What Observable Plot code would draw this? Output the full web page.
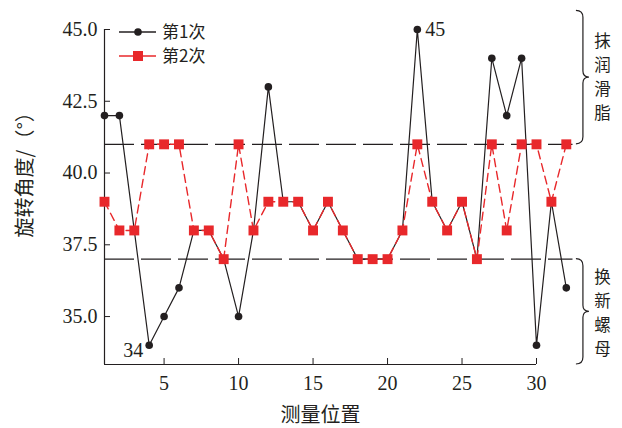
<!DOCTYPE html>
<html>
<head>
<meta charset="utf-8">
<script src="https://cdn.jsdelivr.net/npm/d3@7"></script>
<script src="https://cdn.jsdelivr.net/npm/@observablehq/plot@0.6"></script>
<style>
  body { margin: 0; background: #fff; }
</style>
</head>
<body>
<div id="chart"></div>
<script>
// ---- data ----
const positions = [1,2,3,4,5,6,7,8,9,10,11,12,13,14,15,16,17,18,19,20,21,22,23,24,25,26,27,28,29,30,31,32];
const run1 = [42,42,38,34,35,36,38,38,37,35,38,43,39,39,38,39,38,37,37,37,38,45,39,38,39,37,44,42,44,34,39,36];
const run2 = [39,38,38,41,41,41,38,38,37,41,38,39,39,39,38,39,38,37,37,37,38,41,39,38,39,37,41,38,41,41,39,41];
const seriesNames = ["第1次", "第2次"];
const xTicks = [5,10,15,20,25,30];
const yTicks = [35.0,37.5,40.0,42.5,45.0];
const refLines = [41, 37];
const pointLabels = [{pos: 22, value: 45, text: "45", side: "right"}, {pos: 4, value: 34, text: "34", side: "left"}];
const braceSpans = [{from: 45.65, to: 41, label: "抹润滑脂", mid: 43.33}, {from: 37, to: 33.33, label: "换新螺母", mid: 35.1}];
const xTitle = "测量位置";
const yTitle = "旋转角度/（°）";

const RED = "#e8282b";
const INK = "#231f20";
const CJK = "'Noto Sans CJK SC', sans-serif";
const SERIF = "'Liberation Serif', 'Times New Roman', serif";

const rows = positions.map((p, i) => ({pos: p, a: run1[i], b: run2[i]}));
// one entry per character of the vertical side labels
const sideChars = braceSpans.flatMap(b => Array.from(b.label).map((ch, i, arr) => ({ch, mid: b.mid, k: i - (arr.length - 1) / 2})));
const charSlots = [-1.5, -0.5, 0.5, 1.5];

function legendMark(index, scales, values, dims) {
  const g = d3.create("svg:g").attr("transform", `translate(${dims.marginLeft},${dims.marginTop})`);
  const items = [
    {name: seriesNames[0], color: INK, dy: 3, shape: "circle"},
    {name: seriesNames[1], color: RED, dy: 27, shape: "square"}
  ];
  for (const it of items) {
    g.append("line").attr("x1", 15).attr("x2", 52).attr("y1", it.dy).attr("y2", it.dy)
      .attr("stroke", it.color).attr("stroke-width", 1.3);
    if (it.shape === "circle") {
      g.append("circle").attr("cx", 34).attr("cy", it.dy).attr("r", 3.8).attr("fill", it.color);
    } else {
      g.append("rect").attr("x", 29).attr("y", it.dy - 5).attr("width", 10).attr("height", 10).attr("fill", it.color);
    }
    g.append("text").attr("x", 58).attr("y", it.dy).attr("dy", "0.35em").attr("text-anchor", "start")
      .attr("font-family", CJK).attr("font-size", 17).attr("fill", INK).text(it.name);
  }
  return g.node();
}

function braceMark(index, scales, values, dims) {
  const g = d3.create("svg:g").attr("fill", "none").attr("stroke", INK).attr("stroke-width", 1.2);
  const x0 = scales.x(33.15);
  const w = 7, t = 6;
  for (const b of braceSpans) {
    const y1 = scales.y(b.from), y2 = scales.y(b.to), ym = (y1 + y2) / 2;
    const d = `M${x0 - w},${y1} Q${x0},${y1} ${x0},${y1 + w} L${x0},${ym - t} Q${x0},${ym} ${x0 + t},${ym} Q${x0},${ym} ${x0},${ym + t} L${x0},${y2 - w} Q${x0},${y2} ${x0 - w},${y2}`;
    g.append("path").attr("d", d);
  }
  return g.node();
}

function yTitleMark(index, scales, values, dims) {
  const g = d3.create("svg:g");
  const y0 = scales.y(37.74);
  g.append("text")
    .attr("transform", `translate(25,${y0}) rotate(-90)`)
    .attr("text-anchor", "start").attr("dy", "0.35em")
    .attr("font-family", CJK).attr("font-size", 20).attr("fill", INK)
    .text(yTitle);
  return g.node();
}

const chart = Plot.plot({
  width: 622,
  height: 428,
  marginLeft: 104,
  marginRight: 86,
  marginTop: 29,
  marginBottom: 64,
  style: {fontFamily: SERIF, fontSize: "20px", color: INK, background: "#fff", overflow: "visible"},
  x: {domain: [1, 30], label: null},
  y: {domain: [33.33, 45], label: null},
  marks: [
    Plot.axisX({ticks: xTicks, tickSize: -6, tickPadding: 17, tickFormat: d => String(d), label: null, fontSize: 20, fontFamily: SERIF}),
    Plot.axisY({ticks: yTicks, tickSize: -6, tickPadding: 13, tickFormat: d => d.toFixed(1), label: null, fontSize: 20, fontFamily: SERIF}),
    Plot.ruleX([1], {stroke: INK, strokeWidth: 1.2}),
    Plot.ruleY([33.33], {stroke: INK, strokeWidth: 1.2}),
    Plot.ruleY(refLines, {x1: 1, x2: 32.45, stroke: INK, strokeWidth: 1.2, strokeDasharray: "30,7"}),
    Plot.line(rows, {x: "pos", y: "a", stroke: INK, strokeWidth: 1.2}),
    Plot.line(rows, {x: "pos", y: "b", stroke: RED, strokeWidth: 1.4, strokeDasharray: "8,5"}),
    Plot.dot(rows, {x: "pos", y: "a", r: 3.8, fill: INK}),
    Plot.dot(rows, {x: "pos", y: "b", r: 5.6, symbol: "square", fill: RED}),
    Plot.text(pointLabels.filter(d => d.side === "right"), {x: "pos", y: "value", text: "text", textAnchor: "start", dx: 8, fontSize: 20, fontFamily: SERIF, fill: INK}),
    Plot.text(pointLabels.filter(d => d.side === "left"), {x: "pos", y: "value", text: "text", textAnchor: "end", dx: -6, dy: 5, fontSize: 20, fontFamily: SERIF, fill: INK}),
    braceMark,
    ...charSlots.map(k => Plot.text(sideChars.filter(d => d.k === k), {x: () => 34.43, y: "mid", dy: k * 24, text: "ch", fontFamily: CJK, fontSize: 16.5, fill: INK})),
    Plot.text([xTitle], {frameAnchor: "bottom", dy: 57, fontFamily: CJK, fontSize: 20, fill: INK}),
    yTitleMark,
    legendMark
  ]
});
document.getElementById("chart").appendChild(chart);
</script>
</body>
</html>
